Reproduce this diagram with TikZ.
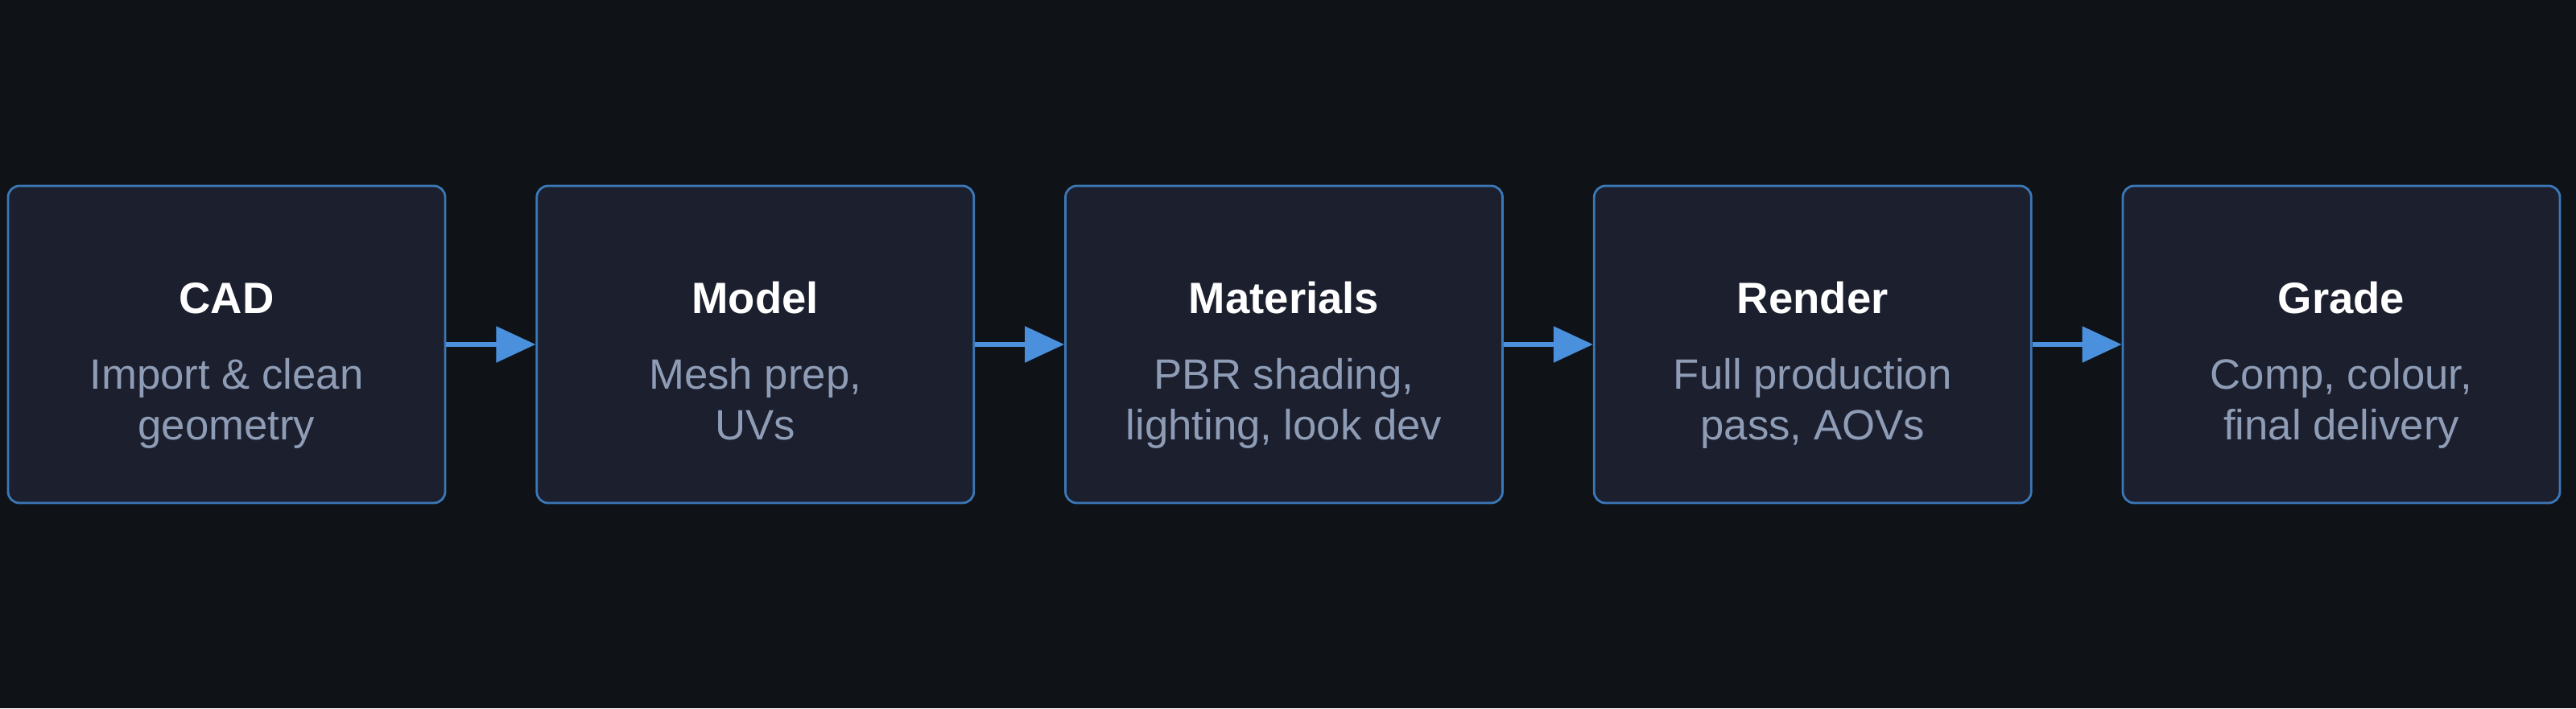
\documentclass[tikz,border=0pt]{standalone}
\usepackage{fontspec}
\setmainfont{Liberation Sans}
\usetikzlibrary{arrows.meta}

\definecolor{bgdark}{HTML}{0F1217}
\definecolor{boxfill}{HTML}{1B1F2E}
\definecolor{boxline}{HTML}{3B78B8}
\definecolor{flowblue}{HTML}{4A90DC}
\definecolor{subgrey}{HTML}{8E9CB5}

\tikzset{
  stage/.style={draw=boxline, line width=0.8pt, fill=boxfill, rounded corners=4pt,
    minimum width=5.43cm, minimum height=3.94cm, inner sep=0pt},
  stagetitle/.style={anchor=base, inner sep=0pt, text=white,
    font=\fontsize{15.5}{18}\selectfont\bfseries},
  stagesub/.style={anchor=base, inner sep=0pt, text=subgrey, align=center,
    font=\fontsize{15}{18.1}\selectfont},
  flow/.style={draw=flowblue, line width=1.6pt, -{Triangle[length=0.49cm,width=0.44cm]}},
}

\begin{document}
\begin{tikzpicture}
                \useasboundingbox[fill=bgdark] (0,0) rectangle (32,8.8);

                \node[stage] (cad) at (2.815,4.52) {};
                \node[stage] (model) at (9.3825,4.52) {};
                \node[stage] (mat) at (15.95,4.52) {};
                \node[stage] (render) at (22.5175,4.52) {};
                \node[stage] (grade) at (29.085,4.52) {};

                \node[stagetitle] (cadT) at (2.815,4.90) {CAD};
                \node[stagetitle] (modelT) at (9.3825,4.90) {Model};
                \node[stagetitle] (matT) at (15.95,4.90) {Materials};
                \node[stagetitle] (renderT) at (22.5175,4.90) {Render};
                \node[stagetitle] (gradeT) at (29.085,4.90) {Grade};

                \node[stagesub] (cadS) at (2.815,3.33) {Import \& clean\\geometry};
                \node[stagesub] (modelS) at (9.3825,3.33) {Mesh prep,\\UVs};
                \node[stagesub] (matS) at (15.95,3.33) {PBR shading,\\lighting, look dev};
                \node[stagesub] (renderS) at (22.5175,3.33) {Full production\\pass, AOVs};
                \node[stagesub] (gradeS) at (29.085,3.33) {Comp, colour,\\final delivery};

                \draw[flow] (cad) to (model);
                \draw[flow] (model) to (mat);
                \draw[flow] (mat) to (render);
                \draw[flow] (render) to (grade);
            \end{tikzpicture}
\end{document}
